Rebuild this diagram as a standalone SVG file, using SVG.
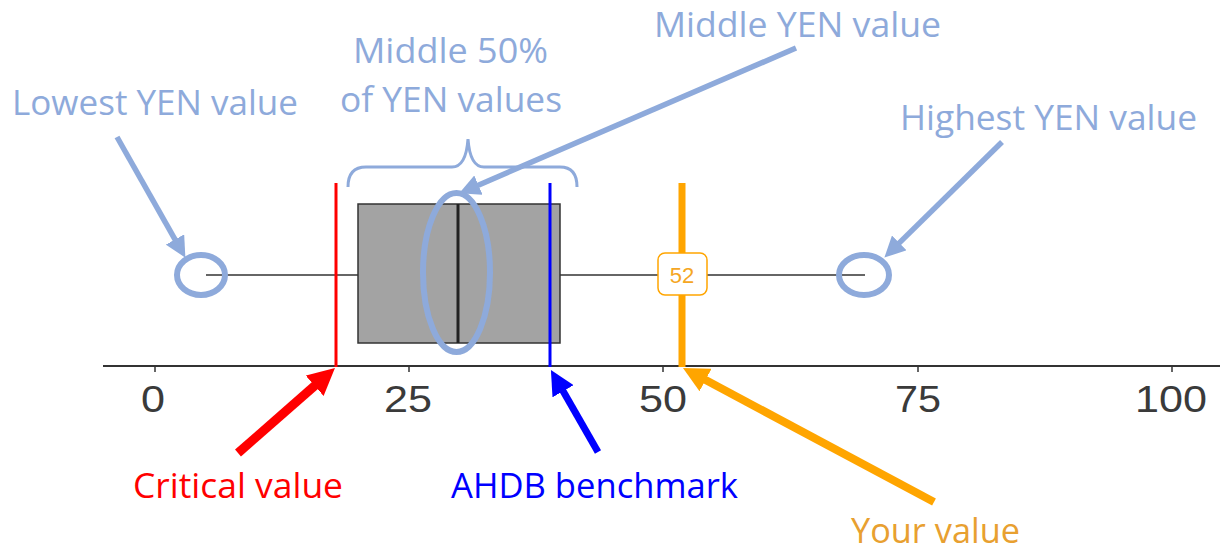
<svg xmlns="http://www.w3.org/2000/svg" width="1220" height="553" viewBox="0 0 1220 553">
<style>
.lbl{font-family:"Open Sans",Lato,sans-serif;font-size:34px}
.lb{fill:#8eaadb}
.tick{font-family:"Liberation Sans",Arial,sans-serif;font-size:36px;fill:#3a3a3a;text-anchor:middle}
.axis{stroke:#333;stroke-width:2;fill:none}
.ring{fill:none;stroke:#8eaadb;stroke-width:6}
.arr{fill:none;stroke-linecap:butt}
</style>
<defs>
<marker id="hLb" viewBox="0 0 10 10" refX="1" refY="5" markerWidth="3.8" markerHeight="3.8" orient="auto" markerUnits="strokeWidth"><path d="M0,0 L10,5 L0,10 z" fill="#8eaadb"/></marker>
<marker id="hRed" viewBox="0 0 10 10" refX="1" refY="5" markerWidth="3" markerHeight="3" orient="auto" markerUnits="strokeWidth"><path d="M0,0 L10,5 L0,10 z" fill="#ff0000"/></marker>
<marker id="hBlue" viewBox="0 0 10 10" refX="1" refY="5" markerWidth="3.5" markerHeight="3.5" orient="auto" markerUnits="strokeWidth"><path d="M0,0 L10,5 L0,10 z" fill="#0000ff"/></marker>
<marker id="hOr" viewBox="0 0 10 10" refX="1" refY="5" markerWidth="3.2" markerHeight="3.2" orient="auto" markerUnits="strokeWidth"><path d="M0,0 L10,5 L0,10 z" fill="#ffa500"/></marker>
</defs>
<rect width="1220" height="553" fill="#ffffff"/>

<g id="axis">
<line class="axis" x1="103" y1="366" x2="1220" y2="366"/>
<g stroke="#333" stroke-width="1.5">
<line x1="155" y1="366" x2="155" y2="372"/>
<line x1="409" y1="366" x2="409" y2="372"/>
<line x1="663" y1="366" x2="663" y2="372"/>
<line x1="918" y1="366" x2="918" y2="372"/>
<line x1="1172" y1="366" x2="1172" y2="372"/>
</g>
<text class="tick" x="153" y="412" textLength="24" lengthAdjust="spacingAndGlyphs">0</text>
<text class="tick" x="408" y="412" textLength="48" lengthAdjust="spacingAndGlyphs">25</text>
<text class="tick" x="663" y="412" textLength="48" lengthAdjust="spacingAndGlyphs">50</text>
<text class="tick" x="918" y="412" textLength="46" lengthAdjust="spacingAndGlyphs">75</text>
<text class="tick" x="1171" y="412" textLength="72" lengthAdjust="spacingAndGlyphs">100</text>
</g>

<g id="boxplot">
<line x1="206" y1="275" x2="865" y2="275" stroke="#333" stroke-width="1.5"/>
<rect x="358" y="204" width="202" height="139" fill="#a3a3a3" stroke="#333" stroke-width="1.5"/>
<line x1="458" y1="204" x2="458" y2="343" stroke="#222" stroke-width="3"/>
</g>

<g id="critical-line"><line x1="336" y1="183" x2="336" y2="367" stroke="#ff0000" stroke-width="3"/></g>
<g id="benchmark-line"><line x1="550" y1="183" x2="550" y2="367" stroke="#0000ff" stroke-width="3"/></g>
<g id="your-line">
<line x1="682" y1="183" x2="682" y2="367" stroke="#ffa500" stroke-width="7"/>
<rect x="658" y="253" width="49" height="42" rx="7" fill="#ffffff" stroke="#ffa500" stroke-width="1.5"/>
<text x="682" y="283" text-anchor="middle" font-family="Liberation Sans,Arial,sans-serif" font-size="22" fill="#f5a623">52</text>
</g>

<g id="highlights">
<ellipse class="ring" cx="201" cy="275" rx="24" ry="20"/>
<ellipse class="ring" cx="864" cy="275" rx="25" ry="20"/>
<ellipse class="ring" cx="456.5" cy="272.5" rx="33.5" ry="79.5"/>
<path d="M348,187 Q348,167 366,167 L452,167 Q466,167 468,139 Q470,167 484,167 L560,167 Q577,167 577,187" fill="none" stroke="#8eaadb" stroke-width="3"/>
</g>

<g id="connectors">
<line class="arr" x1="117" y1="137" x2="176.1" y2="241.3" stroke="#8eaadb" stroke-width="5.5" marker-end="url(#hLb)"/>
<line class="arr" x1="1002" y1="142" x2="897.8" y2="244.4" stroke="#8eaadb" stroke-width="5.5" marker-end="url(#hLb)"/>
<line class="arr" x1="796" y1="48" x2="476.5" y2="185.9" stroke="#8eaadb" stroke-width="5.5" marker-end="url(#hLb)"/>
<line class="arr" x1="238" y1="453" x2="316.7" y2="384" stroke="#ff0000" stroke-width="9" marker-end="url(#hRed)"/>
<line class="arr" x1="598" y1="452" x2="561.9" y2="389.1" stroke="#0000ff" stroke-width="7" marker-end="url(#hBlue)"/>
<line class="arr" x1="934" y1="502" x2="703.3" y2="378.8" stroke="#ffa500" stroke-width="8" marker-end="url(#hOr)"/>
</g>

<g id="label-lowest"><text class="lbl lb" x="12" y="115" textLength="286" lengthAdjust="spacingAndGlyphs">Lowest YEN value</text></g>
<g id="label-middle50">
<text class="lbl lb" x="353" y="63" textLength="195" lengthAdjust="spacingAndGlyphs">Middle 50%</text>
<text class="lbl lb" x="340" y="112" textLength="222" lengthAdjust="spacingAndGlyphs">of YEN values</text>
</g>
<g id="label-median"><text class="lbl lb" x="654" y="37" textLength="287" lengthAdjust="spacingAndGlyphs">Middle YEN value</text></g>
<g id="label-highest"><text class="lbl lb" x="900" y="130" textLength="297" lengthAdjust="spacingAndGlyphs">Highest YEN value</text></g>
<g id="label-critical"><text class="lbl" fill="#ff0000" x="133" y="498" textLength="210" lengthAdjust="spacingAndGlyphs">Critical value</text></g>
<g id="label-benchmark"><text class="lbl" fill="#0000ff" x="451" y="498" textLength="287" lengthAdjust="spacingAndGlyphs">AHDB benchmark</text></g>
<g id="label-your"><text class="lbl" fill="#e8a030" x="851" y="543" textLength="169" lengthAdjust="spacingAndGlyphs">Your value</text></g>
</svg>
